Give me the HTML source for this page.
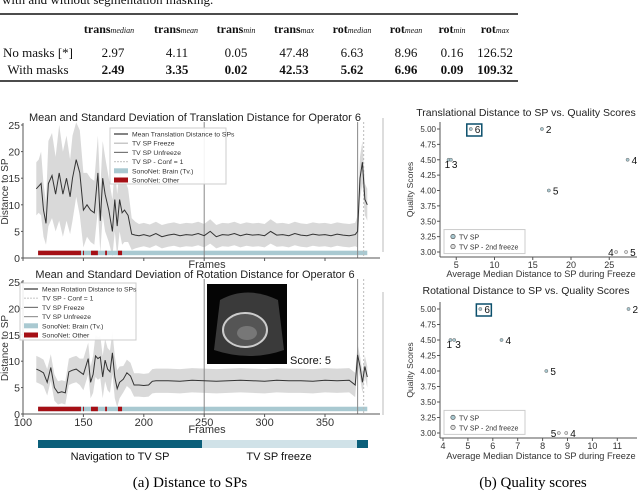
<!DOCTYPE html>
<html><head><meta charset="utf-8"><style>
body{margin:0;background:#fff;}
svg{display:block;}
.serif{font-family:"Liberation Serif",serif;}
.sans{font-family:"Liberation Sans",sans-serif;}
</style></head><body>
<svg id="fig" width="640" height="491" viewBox="0 0 640 491" xmlns="http://www.w3.org/2000/svg">
<g class="serif" font-size="13" fill="#111">
<text x="2" y="4" font-size="13">with and without segmentation masking.</text>
<line x1="0" y1="14" x2="518" y2="14" stroke="#111" stroke-width="1.5"/>
<line x1="0" y1="81" x2="518" y2="81" stroke="#111" stroke-width="1.5"/>
<g font-weight="bold" font-size="12" text-anchor="middle">
<text x="109" y="33">trans<tspan font-weight="normal" font-style="italic" font-size="8">median</tspan></text>
<text x="176" y="33">trans<tspan font-weight="normal" font-style="italic" font-size="8">mean</tspan></text>
<text x="236" y="33">trans<tspan font-weight="normal" font-style="italic" font-size="8">min</tspan></text>
<text x="294" y="33">trans<tspan font-weight="normal" font-style="italic" font-size="8">max</tspan></text>
<text x="352" y="33">rot<tspan font-weight="normal" font-style="italic" font-size="8">median</tspan></text>
<text x="406" y="33">rot<tspan font-weight="normal" font-style="italic" font-size="8">mean</tspan></text>
<text x="452" y="33">rot<tspan font-weight="normal" font-style="italic" font-size="8">min</tspan></text>
<text x="495" y="33">rot<tspan font-weight="normal" font-style="italic" font-size="8">max</tspan></text>
</g>
<g text-anchor="middle">
<text x="38" y="57">No masks [*]</text>
<text x="113" y="57">2.97</text><text x="177" y="57">4.11</text><text x="236" y="57">0.05</text><text x="294" y="57">47.48</text>
<text x="352" y="57">6.63</text><text x="406" y="57">8.96</text><text x="452" y="57">0.16</text><text x="495" y="57">126.52</text>
</g>
<g text-anchor="middle">
<text x="38" y="74">With masks</text>
<g font-weight="bold">
<text x="113" y="74">2.49</text><text x="177" y="74">3.35</text><text x="236" y="74">0.02</text><text x="294" y="74">42.53</text>
<text x="352" y="74">5.62</text><text x="406" y="74">6.96</text><text x="452" y="74">0.09</text><text x="495" y="74">109.32</text>
</g></g>
</g>
<g id="charts" class="sans"></g>
<line x1="383" y1="118" x2="383" y2="252" stroke="#bbb"/>
<line x1="383" y1="292" x2="383" y2="415" stroke="#bbb"/>
<text class="serif" x="190" y="487" font-size="15" text-anchor="middle">(a) Distance to SPs</text>
<text class="serif" x="533" y="487" font-size="15" text-anchor="middle">(b) Quality scores</text>
</svg>
<script>
// ---- data ----
const transFrames=[111,113,115,117,119,121,124,127,130,133,136,139,141,144,147,150,153,156,159,162,164,166,168,171,174,176,178,180,182,184,187,190,193,196,200,205,210,215,220,225,230,235,240,245,250,255,260,265,270,275,280,285,290,295,300,305,310,315,320,325,330,335,340,345,350,355,360,365,370,375,377,379,381,383,385];
const transMean=[13,13.5,14,9,6.5,14,15.5,12,16,12,15,11.5,15,18.5,16,9,10,9,8.5,16,7,15,12,9,5,11,6,11,8.5,9,8,4.5,4.3,4.2,4.4,4.1,4.6,4.0,4.3,4.5,4.2,4.4,4.3,4.6,4.2,5.0,4.0,4.4,4.3,4.6,4.2,4.5,4.3,4.4,4.2,5.0,4.3,4.4,4.2,4.6,4.3,4.2,4.5,4.3,4.4,4.2,4.5,4.3,4.2,4.4,5,15,18,11,10];
const transStd=[5,5,6,5,4,8,8,7,9,8,8,7,8,7,8,7,6,6,6,7,6,7,7,6,6,6,6,6,6,6,5,3,2.5,2.2,2.2,2.2,2.2,2.2,2.2,2.2,2.2,2.2,2.2,2.2,2.2,2.3,2.2,2.2,2.2,2.2,2.2,2.2,2.2,2.2,2.2,2.3,2.2,2.2,2.2,2.2,2.2,2.2,2.2,2.2,2.2,2.2,2.2,2.2,2.2,2.2,3,4,4,3,3];
const rotFrames=[111,114,117,120,123,126,129,132,135,138,141,144,147,150,152,154,156,158,160,162,164,166,168,170,172,174,176,178,180,183,186,189,192,196,200,204,207,210,220,230,240,250,260,270,280,290,300,310,320,330,340,350,360,370,375,377,379,381,383,385];
const rotMean=[8.5,8.2,7.8,6,8.8,5,4,4.2,4,8,8.3,8.5,8,7.5,9,10.5,6,7.5,11,10.5,10.8,7,10.2,8.5,8,11.6,7,4.8,6,6.6,7.8,7.2,5.5,5.5,5.4,5.5,6.2,6.3,6.3,6.2,6.4,6.3,6.2,6.3,6.4,6.3,6.2,6.4,6.3,6.3,6.2,6.4,6.3,6.4,5.5,11.2,9,6,9,7];
const rotStd=[2.5,2.5,2.5,2.5,2.5,2.5,2.2,2.2,2.2,2.5,2.5,2.5,2.5,3,3,3,3,3.5,4,4,4,4,4,4,4,4,4,3.5,3,2.5,2.5,2.5,2.2,2.2,2.2,2.2,2.3,2.3,2.3,2.3,2.3,2.3,2.3,2.3,2.3,2.3,2.3,2.3,2.3,2.3,2.3,2.3,2.3,2.3,2.3,2,2,2,2,2];
const sonoStart=[112.5,149.7,156.3,168,178.6];
const sonoEnd=[148,150.5,162,169.5,182];
const yTicks=[0,5,10,15,20,25];
const xTicks=[100,150,200,250,300,350];
const transScatterX=[6.9,16.2,4.0,4.3,27.4,17.1,25.9,27.2];
const transScatterY=[5.0,5.0,4.5,4.5,4.5,4.0,3.0,3.0];
const transScatterLbl=['6','2','1','3','4','5','4','5'];
const rotScatterX=[5.5,11.45,4.3,4.45,6.35,8.15,8.65,8.95];
const rotScatterY=[5.0,5.0,4.5,4.5,4.5,4.0,3.0,3.0];
const rotScatterLbl=['6','2','1','3','4','5','5','4'];
const qTicks=[3.00,3.25,3.50,3.75,4.00,4.25,4.50,4.75,5.00];

const NS='http://www.w3.org/2000/svg';
const root=document.getElementById('charts');
function mk(tag,attrs,parent,txt){const e=document.createElementNS(NS,tag);for(const k in attrs)e.setAttribute(k,attrs[k]);if(txt!==undefined)e.textContent=txt;(parent||root).appendChild(e);return e;}
const xs=f=>23+(f-100)*1.208;

function lineChart(name,title,titleY,y0,ky,frames,mean,std,legend,legendBox,showXLabels,framesY){
  const g=mk('g',{});
  
  
  const ys=v=>y0-v*ky;
  const t=mk('text',{x:195,y:titleY,'font-size':11,'text-anchor':'middle',fill:'#222'},g,title);
  
  
  let up=frames.map((f,i)=>xs(f).toFixed(1)+','+ys(mean[i]+std[i]).toFixed(1));
  let dn=frames.map((f,i)=>xs(f).toFixed(1)+','+ys(Math.max(0.3,mean[i]-std[i])).toFixed(1)).reverse();
  const band=mk('polygon',{points:up.concat(dn).join(' '),fill:'#d9d9d9'},g);
  
  
  const sb=mk('rect',{x:xs(112.5),y:ys(1)-2,width:xs(385)-xs(112.5),height:4.5,fill:'#a9c9d1'},g);
  
  
  sonoStart.forEach((s,i)=>{const r=mk('rect',{x:xs(s),y:ys(1)-2,width:xs(sonoEnd[i])-xs(s),height:4.5,fill:'#a50f15'},g);
    
    });
  [[250,'#888',''],[377,'#888',''],[382,'#bbb','2,2']].forEach(m=>{const l=mk('line',{x1:xs(m[0]),x2:xs(m[0]),y1:ys(25)-3,y2:y0,stroke:m[1],'stroke-width':1,'stroke-dasharray':m[2]},g);
    
    });
  const ml=mk('polyline',{points:frames.map((f,i)=>xs(f).toFixed(1)+','+ys(mean[i]).toFixed(1)).join(' '),fill:'none',stroke:'#333','stroke-width':1},g);
  
  
  mk('line',{x1:23,x2:23,y1:ys(25)-2,y2:y0,stroke:'#555'},g);
  mk('line',{x1:23,x2:380,y1:y0,y2:y0,stroke:'#555'},g);
  yTicks.forEach(v=>{const tt=mk('text',{x:20,y:ys(v)+4,'font-size':10.5,'text-anchor':'end',fill:'#333'},g,v);
    
    
    mk('line',{x1:21,x2:23,y1:ys(v),y2:ys(v),stroke:'#555'},g);});
  xTicks.forEach(v=>{mk('line',{x1:xs(v),x2:xs(v),y1:y0,y2:y0+3,stroke:'#555'},g);
    if(showXLabels){const tt=mk('text',{x:xs(v),y:y0+12,'font-size':11,'text-anchor':'middle',fill:'#333'},g,v);
      
      }});
  const fl=mk('text',{x:207,y:framesY,'font-size':11,'text-anchor':'middle',fill:'#333'},g,'Frames');
  
  
  const yl=mk('text',{x:0,y:0,'font-size':10,'text-anchor':'middle',fill:'#333',transform:`translate(8,${ys(12.5)}) rotate(-90)`},g,'Distance to SP');
  
  
  const lg=mk('g',{},g);
  
  
  mk('rect',{x:legendBox[0],y:legendBox[1],width:legendBox[2],height:legendBox[3],fill:'#fff',stroke:'#ccc','fill-opacity':0.9},lg);
  legend.forEach((it,i)=>{const yy=legendBox[1]+6+i*9.2;
    const e=mk('g',{},lg);
    
    
    if(it[1]==='bar')mk('rect',{x:legendBox[0]+4,y:yy-2.5,width:14,height:5,fill:it[2]},e);
    else mk('line',{x1:legendBox[0]+4,x2:legendBox[0]+18,y1:yy,y2:yy,stroke:it[2],'stroke-width':1.2,'stroke-dasharray':it[1]==='dot'?'2,1':''},e);
    mk('text',{x:legendBox[0]+22,y:yy+2.5,'font-size':6.8,fill:'#333'},e,it[0]);});
}
lineChart('translation-chart','Mean and Standard Deviation of Translation Distance for Operator 6',121,258,5.32,transFrames,transMean,transStd,
 [['Mean Translation Distance to SPs','line','#333'],['TV SP Freeze','line','#bbb'],['TV SP Unfreeze','line','#777'],['TV SP - Conf = 1','dot','#ccc'],['SonoNet: Brain (Tv.)','bar','#a9c9d1'],['SonoNet: Other','bar','#a50f15']],
 [110,128,116,56],false,268);
lineChart('rotation-chart','Mean and Standard Deviation of Rotation Distance for Operator 6',278,414,5.28,rotFrames,rotMean,rotStd,
 [['Mean Rotation Distance to SPs','line','#333'],['TV SP - Conf = 1','dot','#ccc'],['TV SP Freeze','line','#777'],['TV SP Unfreeze','line','#999'],['SonoNet: Brain (Tv.)','bar','#a9c9d1'],['SonoNet: Other','bar','#a50f15']],
 [20,283,116,57],true,433);

(function(){const g=mk('g',{});
 
 
 mk('rect',{x:207,y:284,width:80,height:80,fill:'#050505'},g);
 mk('path',{d:'M220,300 Q247,285 278,300 L284,350 Q250,362 214,350 Z',fill:'#3a3a3a'},g);
 mk('ellipse',{cx:245,cy:330,rx:22,ry:17,fill:'#555',stroke:'#ccc','stroke-width':2},g);
 mk('ellipse',{cx:247,cy:333,rx:10,ry:7,fill:'#777'},g);
 const s=mk('text',{x:290,y:364,'font-size':11,fill:'#111'},null,'Score: 5');
 
 
})();

(function(){const g=mk('g',{});
 
 
 mk('rect',{x:38,y:440,width:164,height:8,fill:'#0b5f7a'},g);
 mk('rect',{x:202,y:440,width:155,height:8,fill:'#d0e2e8'},g);
 mk('rect',{x:357,y:440,width:11,height:8,fill:'#0b5f7a'},g);
 mk('text',{x:120,y:460,'font-size':11,'text-anchor':'middle',fill:'#111'},g,'Navigation to TV SP');
 mk('text',{x:279,y:460,'font-size':11,'text-anchor':'middle',fill:'#111'},g,'TV SP freeze');
})();

function scatter(name,title,titleY,top,bottom,x0px,kx,xTickVals,y5,y3,xs_,ys_,lbls,xlabelY){
  const g=mk('g',{});
  
  
  const sx=v=>x0px+v*kx, sy=v=>y3+(v-3)*(y5-y3)/2;
  mk('text',{x:526,y:titleY,'font-size':10.5,'text-anchor':'middle',fill:'#222'},g,title);
  mk('line',{x1:440,x2:440,y1:top,y2:bottom,stroke:'#555'},g);
  mk('line',{x1:440,x2:637,y1:bottom,y2:bottom,stroke:'#555'},g);
  qTicks.forEach(v=>{mk('line',{x1:437,x2:440,y1:sy(v),y2:sy(v),stroke:'#555'},g);
    const t=mk('text',{x:436,y:sy(v)+3,'font-size':8,'text-anchor':'end',fill:'#333'},g,v.toFixed(2));
    
    });
  xTickVals.forEach(v=>{mk('line',{x1:sx(v),x2:sx(v),y1:bottom,y2:bottom+3,stroke:'#555'},g);
    const t=mk('text',{x:sx(v),y:bottom+11,'font-size':9,'text-anchor':'middle',fill:'#333'},g,v);
    
    });
  mk('text',{x:541,y:xlabelY,'font-size':9.2,'text-anchor':'middle',fill:'#333'},g,'Average Median Distance to SP during Freeze');
  mk('text',{x:0,y:0,'font-size':8.5,'text-anchor':'middle',fill:'#333',transform:`translate(413,${(top+bottom)/2}) rotate(-90)`},g,'Quality Scores');
  xs_.forEach((v,i)=>{const c=mk('circle',{cx:sx(v),cy:sy(ys_[i]),r:1.6,fill:i<6?'#a9c9d1':'#ddd',stroke:'#666','stroke-width':0.5},g);
    
    
    const left=(i===6);
    const below=(ys_[i]===4.5&&i<4);
    let lx=left?sx(v)-8:sx(v)+4, ly=below?sy(ys_[i])+8:sy(ys_[i])+4;
    if(below) lx=sx(v)+(i===2?-4:1);
    mk('text',{x:lx,y:ly,'font-size':10,fill:'#111'},g,lbls[i]);});
  const bx=mk('rect',{x:sx(xs_[0])-4,y:sy(5)-5,width:15,height:12,fill:'none',stroke:'#0b4f6c','stroke-width':1.5},g);
  
  
  const lg=mk('g',{},g);
  
  
  mk('rect',{x:444,y:sy(3.3)-4,width:81,height:24,fill:'#fff',stroke:'#ccc'},lg);
  mk('circle',{cx:453,cy:sy(3.3)+3,r:2.2,fill:'#a9c9d1',stroke:'#444','stroke-width':0.6},lg);
  mk('text',{x:459,y:sy(3.3)+6,'font-size':7,fill:'#333'},lg,'TV SP');
  mk('circle',{cx:453,cy:sy(3.3)+13,r:2.2,fill:'#ddd',stroke:'#444','stroke-width':0.6},lg);
  mk('text',{x:459,y:sy(3.3)+16,'font-size':7,fill:'#333'},lg,'TV SP - 2nd freeze');
}
scatter('translation-scatter','Translational Distance to SP vs. Quality Scores',116,122,257,418,7.65,[5,10,15,20,25],129,252,transScatterX,transScatterY,transScatterLbl,277);
scatter('rotation-scatter','Rotational Distance to SP vs. Quality Scores',294,302,438,443-4*24.9,24.9,[4,5,6,7,8,9,10,11],309,433,rotScatterX,rotScatterY,rotScatterLbl,459);
</script>
</body></html>
